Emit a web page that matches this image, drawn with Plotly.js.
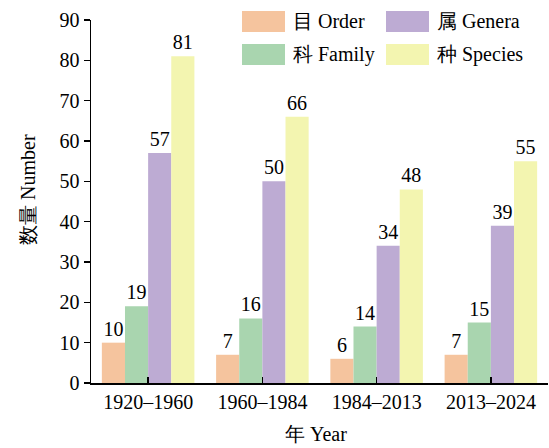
<!DOCTYPE html>
<html>
<head>
<meta charset="utf-8">
<script src="https://cdn.plot.ly/plotly-3.0.1.min.js"></script>
<style>html,body{margin:0;padding:0;background:#fff;}#chart{width:549px;height:448px;}</style>
</head>
<body>
<div id="chart"></div>
<script>
var periods = ['1920–1960', '1960–1984', '1984–2013', '2013–2024'];
var orderVals = [10, 7, 6, 7];
var familyVals = [19, 16, 14, 15];
var generaVals = [57, 50, 34, 39];
var speciesVals = [81, 66, 48, 55];
var seriesNames = ['目 Order', '科 Family', '属 Genera', '种 Species'];
var seriesColors = ['#F5C49E', '#A9D5AF', '#BDABD3', '#F3F5B0'];
var xTitle = '年 Year';
var yTitle = '数量 Number';

var FONT = 'Liberation Serif';
var allVals = [orderVals, familyVals, generaVals, speciesVals];

var traces = allVals.map(function (vals, i) {
  return {
    type: 'bar',
    x: periods,
    y: vals,
    name: seriesNames[i],
    marker: {color: seriesColors[i], line: {width: 0}},
    text: vals.map(String),
    textposition: 'outside',
    constraintext: 'none',
    cliponaxis: false,
    textfont: {family: FONT, size: 20, color: '#000'},
    showlegend: false
  };
});

// custom legend (2x2), positions in paper coords
var L = 91, R = 548, T = 20, B = 383;
function px2x(p) { return (p - L) / (R - L); }
function px2y(p) { return (B - p) / (B - T); }
var legendPos = [
  {sx: 242, sy: 11},   // Order
  {sx: 242, sy: 44},   // Family
  {sx: 386, sy: 11},   // Genera
  {sx: 386, sy: 44}    // Species
];
var shapes = [], annotations = [];
legendPos.forEach(function (p, i) {
  shapes.push({
    type: 'rect', xref: 'paper', yref: 'paper',
    x0: px2x(p.sx), x1: px2x(p.sx + 43),
    y0: px2y(p.sy + 21), y1: px2y(p.sy),
    fillcolor: seriesColors[i], line: {width: 0}
  });
  annotations.push({
    xref: 'paper', yref: 'paper',
    x: px2x(p.sx + 49), y: px2y(p.sy + 10.5),
    xanchor: 'left', yanchor: 'middle',
    text: seriesNames[i], showarrow: false,
    font: {family: FONT, size: 20, color: '#000'}
  });
});
annotations.push({
  xref: 'paper', yref: 'paper',
  x: px2x(28), y: px2y(190),
  xanchor: 'center', yanchor: 'middle', textangle: -90,
  text: yTitle, showarrow: false,
  font: {family: FONT, size: 20, color: '#000'}
});
annotations.push({
  xref: 'paper', yref: 'paper',
  x: px2x(316), y: px2y(434),
  xanchor: 'center', yanchor: 'middle',
  text: xTitle, showarrow: false,
  font: {family: FONT, size: 20, color: '#000'}
});

var layout = {
  width: 549, height: 448,
  margin: {l: L, r: 549 - R, t: T, b: 448 - B},
  paper_bgcolor: '#fff', plot_bgcolor: '#fff',
  barmode: 'group', bargap: 0.19, bargroupgap: 0,
  font: {family: FONT, size: 20, color: '#000'},
  showlegend: false,
  xaxis: {
    showline: true, linecolor: '#000', linewidth: 1.5,
    ticks: 'inside', ticklen: 6, tickwidth: 1.5, tickcolor: '#000',
    tickfont: {family: FONT, size: 20},
    showgrid: false, zeroline: false
  },
  yaxis: {
    range: [0, 90], dtick: 10,
    showline: true, linecolor: '#000', linewidth: 1.5,
    ticks: 'outside', ticklen: 6, tickwidth: 1.5, tickcolor: '#000',
    tickfont: {family: FONT, size: 20},
    showgrid: false, zeroline: false
  },
  shapes: shapes,
  annotations: annotations
};

Plotly.newPlot('chart', traces, layout, {staticPlot: true, displayModeBar: false});
</script>
</body>
</html>
